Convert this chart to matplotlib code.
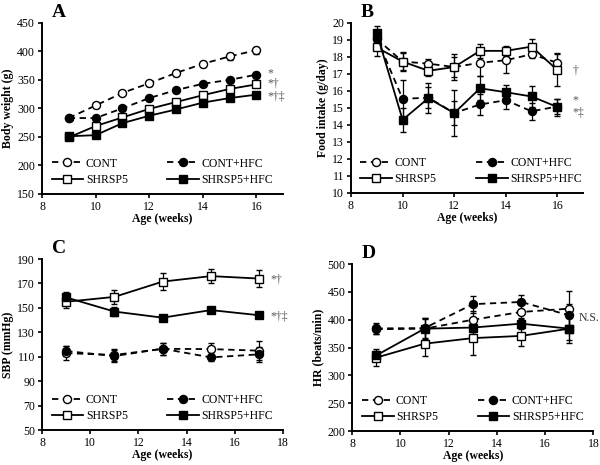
import numpy as np
import matplotlib
matplotlib.use("Agg")
import matplotlib.pyplot as plt

plt.rcParams['font.family'] = ['Liberation Serif', 'DejaVu Serif']
plt.rcParams['font.size'] = 8

# -------------------------
# DATA
# -------------------------
groups = ['CONT', 'CONT+HFC', 'SHRSP5', 'SHRSP5+HFC']

# A: body weight (g)
wk_a = [9, 10, 11, 12, 13, 14, 15, 16]
bw_cont = [283, 305, 327, 344, 362, 378, 391, 402]
bw_cont_hfc = [283, 283, 300, 318, 332, 343, 350, 359]
bw_shr = [249, 269, 284, 299, 311, 323, 334, 342]
bw_shr_hfc = [251, 253, 274, 287, 298, 310, 318, 324]
bw_cont_err = [3, 4, 4, 4, 6, 5, 6, 6]
bw_cont_hfc_err = [3, 3, 4, 4, 4, 4, 4, 5]
bw_shr_err = [3, 4, 4, 4, 4, 4, 5, 5]
bw_shr_hfc_err = [3, 3, 4, 3, 3, 3, 3, 3]

# B: food intake (g/day)
fi_cont = [19.05, 17.72, 17.6, 17.4, 17.65, 17.8, 18.15, 17.65]
fi_cont_hfc = [19.1, 15.53, 15.6, 14.7, 15.2, 15.45, 14.8, 15.08]
fi_shr = [18.55, 17.72, 17.18, 17.4, 18.35, 18.35, 18.6, 17.22]
fi_shr_hfc = [19.39, 14.3, 15.57, 14.69, 16.15, 15.92, 15.67, 15.05]
fi_cont_err = [0.3, 0.5, 0.3, 0.75, 0.8, 0.75, 0.2, 0.6]
fi_cont_hfc_err = [0.3, 1.1, 0.6, 1.35, 0.6, 0.5, 0.5, 0.45]
fi_shr_err = [0.5, 0.55, 0.3, 0.6, 0.4, 0.3, 0.45, 0.95]
fi_shr_hfc_err = [0.4, 0.7, 0.9, 0.7, 0.7, 0.45, 0.6, 0.5]

# C: SBP (mmHg)
wk_c = [9, 11, 13, 15, 17]
sbp_cont = [113, 111.5, 116.5, 116.3, 115]
sbp_cont_hfc = [114.7, 110.6, 116.6, 109.5, 112]
sbp_shr = [155, 159, 171.5, 176, 174]
sbp_shr_hfc = [158.6, 147, 142, 148.2, 144]
sbp_cont_err = [6, 5, 5, 5, 8]
sbp_cont_hfc_err = [4, 5, 5, 3, 6]
sbp_shr_err = [5, 6, 7, 6, 7]
sbp_shr_hfc_err = [4, 4, 1, 1, 1]

# D: HR (beats/min)
hr_cont = [383, 384, 400, 414, 420]
hr_cont_hfc = [384.5, 385, 428, 432, 408]
hr_shr = [332, 357, 367, 371, 384]
hr_shr_hfc = [336, 384, 386, 393, 384]
hr_cont_err = [8, 18, 15, 12, 32]
hr_cont_hfc_err = [10, 18, 15, 13, 20]
hr_shr_err = [15, 22, 30, 18, 25]
hr_shr_hfc_err = [8, 20, 12, 10, 20]

styles = {
    'CONT': dict(ls=(0, (3.5, 2.5)), marker='o', mfc='white'),
    'CONT+HFC': dict(ls=(0, (3.5, 2.5)), marker='o', mfc='black'),
    'SHRSP5': dict(ls='-', marker='s', mfc='white'),
    'SHRSP5+HFC': dict(ls='-', marker='s', mfc='black'),
}


def draw(ax, x, series, errs):
    handles = {}
    for g in ['CONT', 'SHRSP5', 'CONT+HFC', 'SHRSP5+HFC']:
        st = styles[g]
        eb = ax.errorbar(x, series[g], yerr=errs[g], color='black', lw=1.3,
                         ls=st['ls'], marker=st['marker'], mfc=st['mfc'],
                         mec='black', ms=5.8, mew=1.0, capsize=2.5,
                         elinewidth=0.9, capthick=0.9, ecolor='black')
        eb[-1][0].set_linestyle('-')
        handles[g] = eb[0]
    order = ['CONT', 'SHRSP5', 'CONT+HFC', 'SHRSP5+HFC']
    ax.legend([handles[g] for g in order], order, ncol=2, frameon=False,
              loc='lower left', bbox_to_anchor=(0.02, 0.02), fontsize=8.5,
              handlelength=2.7, handletextpad=0.2, columnspacing=3.35,
              labelspacing=0.35, borderaxespad=0)


def style(ax, xlim, xticks, ylim, yticks, ylabel, letter):
    ax.set_xlim(*xlim)
    ax.set_ylim(*ylim)
    ax.set_xticks(xticks)
    ax.set_yticks(yticks)
    for s in ['top', 'right']:
        ax.spines[s].set_visible(False)
    for s in ['left', 'bottom']:
        ax.spines[s].set_linewidth(1.4)
    ax.tick_params(direction='out', length=3, width=1.2, labelsize=8.5, pad=2)
    ax.set_xlabel('Age (weeks)', fontweight='bold', fontsize=8.5, labelpad=0)
    ax.set_ylabel(ylabel, fontweight='bold', fontsize=8.5, labelpad=2)
    ax.text(0.04, 1.01, letter, transform=ax.transAxes, fontsize=14,
            fontweight='bold', va='bottom')


fig = plt.figure(figsize=(6, 4.65), dpi=100)
axA = fig.add_axes([0.070, 0.583, 0.402, 0.368])
axB = fig.add_axes([0.585, 0.585, 0.387, 0.366])
axC = fig.add_axes([0.070, 0.075, 0.402, 0.368])
axD = fig.add_axes([0.587, 0.073, 0.402, 0.359])

note = dict(color='#555555', fontsize=8.5, va='center', ha='left')

# A
draw(axA, wk_a,
     {'CONT': bw_cont, 'CONT+HFC': bw_cont_hfc, 'SHRSP5': bw_shr, 'SHRSP5+HFC': bw_shr_hfc},
     {'CONT': bw_cont_err, 'CONT+HFC': bw_cont_hfc_err, 'SHRSP5': bw_shr_err, 'SHRSP5+HFC': bw_shr_hfc_err})
style(axA, (8, 17), [8, 10, 12, 14, 16], (150, 450), range(150, 451, 50),
      'Body weight (g)', 'A')
axA.text(16.4, 362, '*', **note)
axA.text(16.4, 343, '*\u2020', **note)
axA.text(16.4, 321, '*\u2020\u2021', **note)

# B
draw(axB, wk_a,
     {'CONT': fi_cont, 'CONT+HFC': fi_cont_hfc, 'SHRSP5': fi_shr, 'SHRSP5+HFC': fi_shr_hfc},
     {'CONT': fi_cont_err, 'CONT+HFC': fi_cont_hfc_err, 'SHRSP5': fi_shr_err, 'SHRSP5+HFC': fi_shr_hfc_err})
style(axB, (8, 17), [8, 10, 12, 14, 16], (10, 20), range(10, 21),
      'Food intake (g/day)', 'B')
axB.text(16.6, 17.2, '\u2020', **note)
axB.text(16.6, 15.45, '*', **note)
axB.text(16.6, 14.7, '*\u2021', **note)

# C
draw(axC, wk_c,
     {'CONT': sbp_cont, 'CONT+HFC': sbp_cont_hfc, 'SHRSP5': sbp_shr, 'SHRSP5+HFC': sbp_shr_hfc},
     {'CONT': sbp_cont_err, 'CONT+HFC': sbp_cont_hfc_err, 'SHRSP5': sbp_shr_err, 'SHRSP5+HFC': sbp_shr_hfc_err})
style(axC, (8, 18), [8, 10, 12, 14, 16, 18], (50, 190), range(50, 191, 20),
      'SBP (mmHg)', 'C')
axC.text(17.45, 173, '*\u2020', **note)
axC.text(17.45, 143, '*\u2020\u2021', **note)

# D
draw(axD, wk_c,
     {'CONT': hr_cont, 'CONT+HFC': hr_cont_hfc, 'SHRSP5': hr_shr, 'SHRSP5+HFC': hr_shr_hfc},
     {'CONT': hr_cont_err, 'CONT+HFC': hr_cont_hfc_err, 'SHRSP5': hr_shr_err, 'SHRSP5+HFC': hr_shr_hfc_err})
style(axD, (8, 18), [8, 10, 12, 14, 16, 18], (200, 500), range(200, 501, 50),
      'HR (beats/min)', 'D')
axD.text(17.4, 403, 'N.S.', color='#333333', fontsize=8.5, va='center', ha='left')

fig.savefig('out.png', dpi=100)
